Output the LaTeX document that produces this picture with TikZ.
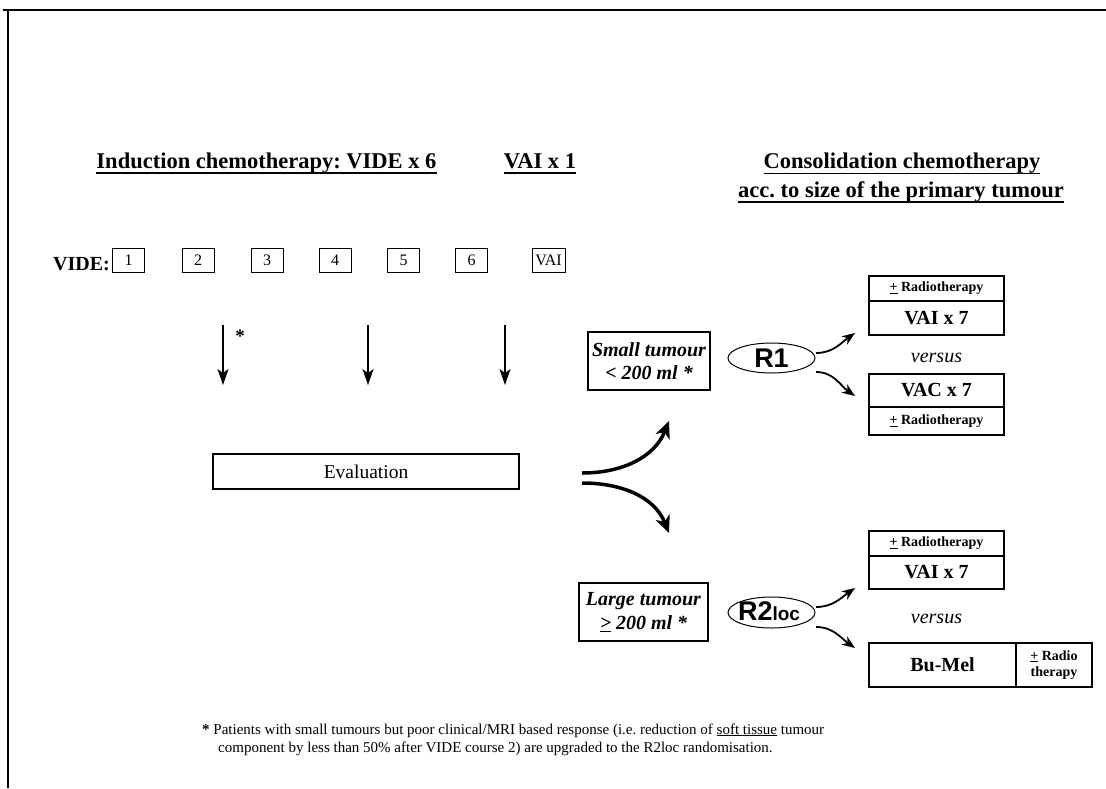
\documentclass[tikz,border=0pt]{standalone}
\usepackage{fontspec}
\setmainfont{Liberation Serif}
\newfontfamily\arialfont{Liberation Sans}
\usetikzlibrary{arrows.meta,shapes.geometric}
\newcommand\szHead{\fontsize{22.5}{29}\selectfont}
\newcommand\szMain{\fontsize{20}{23.5}\selectfont}
\newcommand\szSmall{\fontsize{14}{16}\selectfont}
\newcommand\szNum{\fontsize{16}{18}\selectfont}
\newcommand\szFoot{\fontsize{15}{18}\selectfont}
\newcommand\hul[1]{\leavevmode\setbox0\hbox{#1}\rlap{\rule[-5.6pt]{\wd0}{1.6pt}}\box0}
\begin{document}
\frenchspacing
\begin{tikzpicture}[x=1pt,y=-1pt,
  frame/.style={line width=2pt},
  numbox/.style={draw, line width=0.9pt, minimum width=32pt, minimum height=24pt, inner sep=0pt, font=\szNum},
  plainbox/.style={draw, line width=1.1pt, inner sep=0pt},
  rbox/.style={draw, line width=1.3pt, inner sep=0pt, minimum width=135pt},
  head/.style={font=\szHead\bfseries, inner sep=0pt, anchor=base},
  randell/.style={draw, ellipse, line width=1pt, minimum width=87pt, minimum height=30pt, inner sep=0pt},
  downarrow/.style={line width=1.3pt, -{Stealth[length=16pt,width=11pt,inset=4pt]}},
  bigarrow/.style={line width=3.5pt, -{Stealth[length=17pt,width=15pt,inset=5pt]}},
  smallarrow/.style={line width=1.8pt, -{Stealth[length=13pt,width=10pt,inset=4pt]}},
  txt/.style={inner sep=0pt}
]
\useasboundingbox (0,0) rectangle (1106,788);
% frame
\draw[frame] (8,788) -- (8,10.3);
\draw[frame] (3,10.3) -- (1106,10.3);

% headings
\node[head] (h1) at (266.5,168) {\hul{Induction chemotherapy: VIDE x 6}};
\node[head] (h2) at (540,168) {\hul{VAI x 1}};
\node[head] (h3) at (902,168.5) {\hul{Consolidation chemotherapy}};
\node[head] (h4) at (901,197) {\hul{acc. to size of the primary tumour}};

% VIDE row
\node[txt, anchor=base east, font=\fontsize{20}{22}\selectfont\bfseries] (vide) at (110,270) {VIDE:};
\node[numbox] (b1) at (128.5,260.5) {1};
\node[numbox] (b2) at (198,260.5) {2};
\node[numbox] (b3) at (267,260.5) {3};
\node[numbox] (b4) at (335,260.5) {4};
\node[numbox] (b5) at (403.5,260.5) {5};
\node[numbox] (b6) at (471.5,260.5) {6};
\node[numbox, minimum width=33pt] (bv) at (548.5,260.5) {VAI};

% down arrows
\coordinate (d1s) at (223,325); \coordinate (d1e) at (223,385);
\coordinate (d2s) at (368,325); \coordinate (d2e) at (368,385);
\coordinate (d3s) at (505,325); \coordinate (d3e) at (505,385);
\draw[downarrow] (d1s) -- (d1e);
\draw[downarrow] (d2s) -- (d2e);
\draw[downarrow] (d3s) -- (d3e);
\node[txt, font=\fontsize{19}{20}\selectfont\bfseries] (star) at (240,336) {*};

% evaluation
\node[plainbox, minimum width=306pt, minimum height=35pt, font=\fontsize{19.5}{22}\selectfont] (eval) at (366,471.5) {Evaluation};

% big curved arrows
\coordinate (c1s) at (582,473); \coordinate (c1e) at (669,421);
\coordinate (c2s) at (582,483); \coordinate (c2e) at (669,533);
\draw[bigarrow] (c1s) to[out=0,in=248] (c1e);
\draw[bigarrow] (c2s) to[out=0,in=112] (c2e);

% tumour boxes
\node[plainbox, minimum width=122pt, minimum height=58pt, align=center, font=\szMain\bfseries\itshape] (small) at (649,361) {Small tumour\\< 200 ml *};
\node[plainbox, minimum width=129pt, minimum height=58pt, align=center, font=\szMain\bfseries\itshape] (large) at (643.5,612) {Large tumour\\\underline{>} 200 ml *};

% randomisation ellipses
\node[randell] (r1) at (771.5,358) {};
\node[txt, font=\arialfont\bfseries\fontsize{27}{28}\selectfont] (r1t) at (r1.center) {R1};
\node[randell, minimum height=31pt] (r2) at (771.5,612.5) {};
\node[txt] (r2t) at (769,611) {{\arialfont\bfseries\fontsize{27}{28}\selectfont R2}{\arialfont\bfseries\fontsize{19}{20}\selectfont loc}};

% right upper group
\node[rbox, minimum height=25pt, font=\szSmall\bfseries] (rad1) at (936.5,288.5) {\underline{+} Radiotherapy};
\node[rbox, minimum height=34pt, font=\szMain\bfseries] (vai1) at (936.5,318) {VAI x 7};
\node[txt, font=\szMain\itshape] (vs1) at (936.5,358) {versus};
\node[rbox, minimum height=33pt, font=\szMain\bfseries] (vac) at (936.5,390.5) {VAC x 7};
\node[rbox, minimum height=28pt, font=\szSmall\bfseries] (rad2) at (936.5,421) {\underline{+} Radiotherapy};

% right lower group
\node[rbox, minimum height=25pt, font=\szSmall\bfseries] (rad3) at (936.5,543.5) {\underline{+} Radiotherapy};
\node[rbox, minimum height=33pt, font=\szMain\bfseries] (vai2) at (936.5,572.5) {VAI x 7};
\node[txt, font=\szMain\itshape] (vs2) at (936.5,619) {versus};
\node[rbox, minimum width=147pt, minimum height=44pt, font=\szMain\bfseries] (bumel) at (942.5,665) {Bu-Mel};
\node[rbox, minimum width=76pt, minimum height=44pt, align=center, font=\fontsize{14}{16.5}\selectfont\bfseries] (rad4) at (1054,665) {\underline{+} Radio\\therapy};

% small arrows from randomisations
\coordinate (a1s) at (816,353); \coordinate (a1e) at (855,333);
\coordinate (a2s) at (816,372); \coordinate (a2e) at (855,396);
\coordinate (a3s) at (816,607); \coordinate (a3e) at (855,588);
\coordinate (a4s) at (816,627); \coordinate (a4e) at (855,648);
\draw[smallarrow] (a1s) to[out=0,in=215] (a1e);
\draw[smallarrow] (a2s) to[out=0,in=145] (a2e);
\draw[smallarrow] (a3s) to[out=0,in=215] (a3e);
\draw[smallarrow] (a4s) to[out=0,in=145] (a4e);

% footnote
\node[txt, anchor=base west, font=\szFoot] (fn1) at (202,734) {\textbf{*} Patients with small tumours but poor clinical/MRI based response (i.e. reduction of \underline{soft tissue} tumour};
\node[txt, anchor=base west, font=\szFoot] (fn2) at (218,752) {component by less than 50\% after VIDE course 2) are upgraded to the R2loc randomisation.};
\end{tikzpicture}
\end{document}
